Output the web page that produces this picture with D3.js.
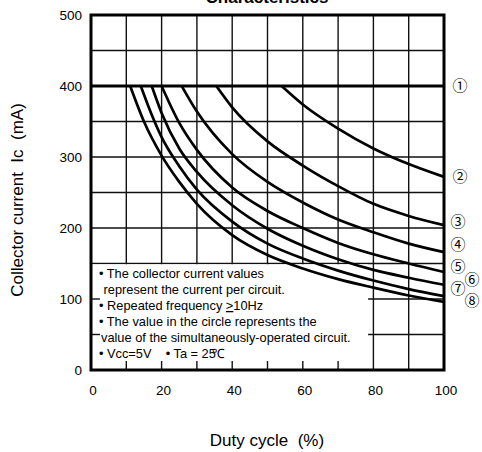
<!DOCTYPE html>
<html>
<head>
<meta charset="utf-8">
<script src="https://cdn.jsdelivr.net/npm/d3@7"></script>
<style>
  body { margin: 0; background: #fff; }
  svg { font-family: "Liberation Sans", Arial, sans-serif; }
</style>
</head>
<body>
<div id="chart"></div>
<script>
// duty cycle (%) vs collector current (mA), one array per number of circuits
var curve1 = [[0, 400], [100, 400]];
var curve2 = [[54, 400], [60, 374], [70, 340], [80, 312], [90, 290], [100, 272]];
var curve3 = [[35.5, 400], [40, 370], [50, 322], [60, 288], [70, 259], [80, 234], [90, 217], [100, 204]];
var curve4 = [[25.7, 400], [30, 364], [40, 304], [50, 265], [60, 236], [70, 212], [80, 194], [90, 178], [100, 166]];
var curve5 = [[20, 400], [25, 348], [30, 310], [40, 257], [50, 224], [60, 200], [70, 179], [80, 163], [90, 150], [100, 138]];
var curve6 = [[17.2, 400], [20, 362], [25, 312], [30, 279], [40, 232], [50, 199], [60, 175], [70, 156], [80, 141], [90, 130], [100, 120]];
var curve7 = [[14.1, 400], [17, 362], [20, 328], [25, 287], [30, 254], [40, 209], [50, 178], [60, 157], [70, 140], [80, 126], [90, 114], [100, 104]];
var curve8 = [[11.1, 400], [15, 350], [20, 302], [25, 265], [30, 234], [40, 190], [50, 162], [60, 143], [70, 128], [80, 116], [90, 105], [100, 96]];

var xTicks = [0, 20, 40, 60, 80, 100];
var yTicks = [0, 100, 200, 300, 400, 500];
var circleLabels = ["①", "②", "③", "④", "⑤", "⑥", "⑦", "⑧"];
var sp = "\u00a0";
var noteLines = [
  "• The collector current values",
  sp + "represent the current per circuit.",
  "• The value in the circle represents the",
  "value of the simultaneously-operated circuit."
];

var W = 482, H = 452;
var svg = d3.select("#chart").append("svg")
  .attr("width", W).attr("height", H);

var x = d3.scaleLinear().domain([0, 100]).range([91, 444]);
var y = d3.scaleLinear().domain([0, 500]).range([370, 15]);

// title, cut off at the top edge
svg.append("text")
  .attr("x", 267).attr("y", 3)
  .attr("text-anchor", "middle")
  .attr("font-size", 17).attr("font-weight", "bold")
  .text("Characteristics");

// grid
var grid = svg.append("g").attr("stroke", "#111").attr("stroke-width", 1.4);
grid.selectAll(".vl").data(d3.range(10, 100, 10)).enter().append("line")
  .attr("x1", function(d) { return x(d); }).attr("x2", function(d) { return x(d); })
  .attr("y1", y(500)).attr("y2", y(0));
grid.selectAll(".hl").data(d3.range(50, 500, 50)).enter().append("line")
  .attr("x1", x(0)).attr("x2", x(100))
  .attr("y1", function(d) { return y(d); }).attr("y2", function(d) { return y(d); });

// white note box hides the grid in the lower left
var boxRight = x(78.5);
svg.append("rect")
  .attr("x", x(0)).attr("y", y(150) + 0.8)
  .attr("width", boxRight - x(0)).attr("height", y(0) - y(150) - 0.8)
  .attr("fill", "#fff");

// tick stubs inside the box
var stubs = svg.append("g").attr("stroke", "#111").attr("stroke-width", 1.4);
stubs.selectAll(".bt").data(d3.range(10, 80, 10)).enter().append("line")
  .attr("x1", function(d) { return x(d); }).attr("x2", function(d) { return x(d); })
  .attr("y1", y(0)).attr("y2", y(0) - 9);
stubs.selectAll(".lt").data([50, 100]).enter().append("line")
  .attr("x1", x(0)).attr("x2", x(0) + 9)
  .attr("y1", function(d) { return y(d); }).attr("y2", function(d) { return y(d); });

// frame
svg.append("rect")
  .attr("x", x(0)).attr("y", y(500))
  .attr("width", x(100) - x(0)).attr("height", y(0) - y(500))
  .attr("fill", "none").attr("stroke", "#000").attr("stroke-width", 3);

// curves
var line = d3.line()
  .x(function(d) { return x(d[0]); })
  .y(function(d) { return y(d[1]); })
  .curve(d3.curveMonotoneX);
var curves = [curve1, curve2, curve3, curve4, curve5, curve6, curve7, curve8];
svg.append("g").selectAll("path").data(curves).enter().append("path")
  .attr("d", line)
  .attr("fill", "none").attr("stroke", "#000")
  .attr("stroke-width", function(d, i) { return i == 0 ? 3.2 : 2.7; });

// circled numbers at the right
var labelPos = [[460, 86], [460, 177], [458, 222], [458, 245], [458, 267], [472, 280], [458, 289], [472, 301]];
svg.append("g").selectAll("text").data(circleLabels).enter().append("text")
  .attr("x", function(d, i) { return labelPos[i][0]; })
  .attr("y", function(d, i) { return labelPos[i][1]; })
  .attr("text-anchor", "middle").attr("dy", "0.36em")
  .attr("font-family", "'Noto Sans CJK JP', 'DejaVu Sans', sans-serif")
  .attr("font-size", 15)
  .text(function(d) { return d; });

// tick labels
svg.append("g").selectAll("text").data(yTicks).enter().append("text")
  .attr("x", 82).attr("y", function(d) { return y(d); })
  .attr("dy", "0.35em").attr("text-anchor", "end")
  .attr("font-size", 13.5)
  .text(function(d) { return d; });
svg.append("g").selectAll("text").data(xTicks).enter().append("text")
  .attr("x", function(d) { return x(d) + 2; }).attr("y", 390)
  .attr("dy", "0.35em").attr("text-anchor", "middle")
  .attr("font-size", 13.5)
  .text(function(d) { return d; });

// axis titles
svg.append("text")
  .attr("transform", "translate(23,200) rotate(-90)")
  .attr("text-anchor", "middle").attr("font-size", 17)
  .text("Collector current" + sp + sp + "Ic" + sp + sp + "(mA)");
svg.append("text")
  .attr("x", 267).attr("y", 446)
  .attr("text-anchor", "middle").attr("font-size", 17)
  .text("Duty cycle" + sp + sp + "(%)");

// notes in the box
var notes = svg.append("g").attr("font-size", 12.8);
notes.append("text").attr("x", 99).attr("y", 278).text(noteLines[0]);
notes.append("text").attr("x", 100).attr("y", 294).text(noteLines[1]);
// ">" underlined for "greater or equal", then 10Hz
var freq = notes.append("text").attr("x", 99).attr("y", 310);
freq.append("tspan").text("• Repeated frequency" + sp);
freq.append("tspan").attr("text-decoration", "underline").text(">");
freq.append("tspan").text("10Hz");
notes.append("text").attr("x", 99).attr("y", 326).text(noteLines[2]);
notes.append("text").attr("x", 101).attr("y", 342).text(noteLines[3]);
// degree sign pushed into the 5 as in the original
var ta = notes.append("text").attr("x", 99).attr("y", 358);
ta.append("tspan").text("• Vcc=5V" + sp + sp + sp + sp + "• Ta = 25");
ta.append("tspan").attr("dx", -4).text("℃");
</script>
</body>
</html>
